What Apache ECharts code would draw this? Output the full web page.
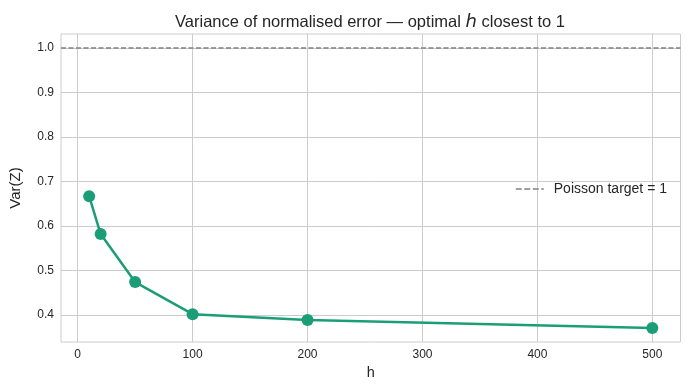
<!DOCTYPE html>
<html><head><meta charset="utf-8">
<script src="https://cdn.jsdelivr.net/npm/echarts@6/dist/echarts.min.js"></script>
<style>html,body{margin:0;padding:0;background:#fff}#c{width:690px;height:390px}</style>
</head><body><div id="c"></div>
<script>
const hValues = [10, 20, 50, 100, 200, 500];
const varZ = [0.667, 0.582, 0.474, 0.402, 0.389, 0.371];
const targetValue = 1;
const xTicks = [0, 100, 200, 300, 400, 500];
const yTicks = [0.4, 0.5, 0.6, 0.7, 0.8, 0.9, 1.0];

const xMin = -14.5, xMax = 524.5, yMin = 0.3394, yMax = 1.0315;
const font = 'Liberation Sans, Arial, sans-serif';
const chart = echarts.init(document.getElementById('c'));
chart.setOption({
  animation: false,
  textStyle: {fontFamily: font},
  title: {
    text: '{a|Variance of normalised error — optimal }{i|h}{a| closest to 1}',
    left: 365, top: 8, textAlign: 'center',
    textStyle: {fontWeight: 'normal', rich: {
      a: {fontSize: 16.5, color: '#262626', fontFamily: font, fontWeight: 'normal'},
      i: {fontSize: 18, color: '#262626', fontStyle: 'italic', fontFamily: 'DejaVu Sans', fontWeight: 'normal'}
    }}
  },
  grid: {left: 58, right: 9.5, top: 34, bottom: 48, show: true, borderColor: '#cccccc', borderWidth: 1},
  legend: {
    right: 18, top: 177, itemWidth: 28, itemHeight: 2, itemGap: 10,
    textStyle: {fontSize: 14, color: '#262626', fontFamily: font, padding: [0, 0, 0, 5]},
    data: [{name: 'Poisson target = 1',
      icon: 'path://M0,0 L6,0 L6,1.5 L0,1.5 Z M8.5,0 L14.5,0 L14.5,1.5 L8.5,1.5 Z M17,0 L23,0 L23,1.5 L17,1.5 Z M25.5,0 L28,0 L28,1.5 L25.5,1.5 Z',
      itemStyle: {color: '#808080'}}]
  },
  xAxis: {
    type: 'value', min: xMin, max: xMax,
    name: 'h', nameLocation: 'middle', nameGap: 21,
    nameTextStyle: {fontSize: 14.5, color: '#262626'},
    axisLine: {show: false},
    axisTick: {show: false, customValues: xTicks},
    splitLine: {lineStyle: {color: '#cccccc', width: 1}},
    axisLabel: {fontSize: 12, color: '#262626', margin: 7, customValues: xTicks}
  },
  yAxis: {
    type: 'value', min: yMin, max: yMax,
    name: 'Var(Z)', nameLocation: 'middle', nameGap: 38, nameRotate: 90,
    nameTextStyle: {fontSize: 15, color: '#262626'},
    axisLine: {show: false},
    axisTick: {show: false, customValues: yTicks},
    splitLine: {lineStyle: {color: '#cccccc', width: 1}},
    axisLabel: {fontSize: 12, color: '#262626', margin: 7, customValues: yTicks,
      formatter: v => v.toFixed(1)}
  },
  series: [
    {
      name: 'Poisson target = 1', type: 'line',
      data: [[xMin, targetValue], [xMax, targetValue]],
      showSymbol: false, symbol: 'none',
      lineStyle: {color: '#808080', width: 1.5, type: [5, 2.5]},
      itemStyle: {color: '#808080'}, z: 1, silent: true
    },
    {
      name: 'Var(Z)', type: 'line',
      data: hValues.map((h, i) => [h, varZ[i]]),
      symbol: 'circle', symbolSize: 12,
      lineStyle: {color: '#1b9e77', width: 2.5},
      itemStyle: {color: '#1b9e77'}, z: 3
    }
  ]
});
</script></body></html>
